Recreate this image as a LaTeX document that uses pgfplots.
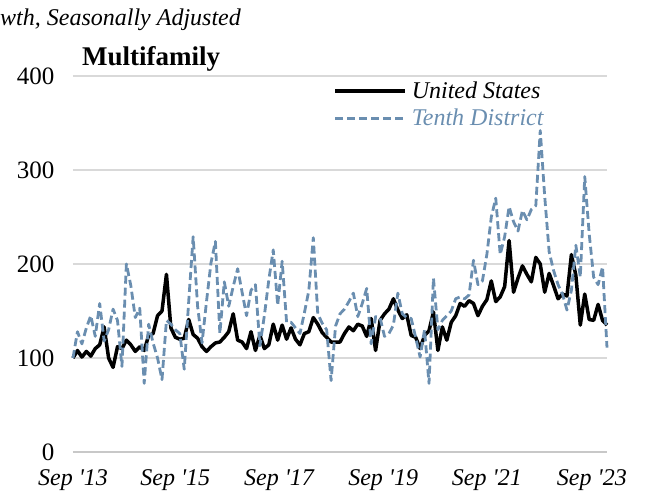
\documentclass[border=0pt]{standalone}
\usepackage{fontspec}
\setmainfont{Liberation Serif}
\usepackage{pgfplots}
\usepackage{pgfplotstable}
\pgfplotsset{compat=1.18}
\definecolor{tdblue}{RGB}{106,142,176}
\definecolor{gridgray}{RGB}{217,217,217}
\definecolor{basegray}{RGB}{200,200,200}

\pgfplotstableread{
i us td
0 100 100
1 108 128
2 101 115
3 107 132
4 102 145
5 110 123
6 114 158
7 133 118
8 100 130
9 90 152
10 112 140
11 110 91
12 119 200
13 114 177
14 107 143
15 112 153
16 108 73
17 124 136
18 126 116
19 145 100
20 150 77
21 189 140
22 132 136
23 122 130
24 120 126
25 121 88
26 141 160
27 125 229
28 121 155
29 112 116
30 107 160
31 112 201
32 116 224
33 117 126
34 122 181
35 128 155
36 147 176
37 119 195
38 117 170
39 110 145
40 128 172
41 108 178
42 124 113
43 110 145
44 114 183
45 136 215
46 119 156
47 135 203
48 120 138
49 132 138
50 120 132
51 114 126
52 126 148
53 128 172
54 143 228
55 136 147
56 127 137
57 122 130
58 117 76
59 117 134
60 117 147
61 126 152
62 133 160
63 129 169
64 136 144
65 134 158
66 123 174
67 142 115
68 108 144
69 140 143
70 147 123
71 152 126
72 163 135
73 151 169
74 142 147
75 146 143
76 124 142
77 122 122
78 110 101
79 124 130
80 129 73
81 149 185
82 108 130
83 133 140
84 119 145
85 138 150
86 145 163
87 158 165
88 155 163
89 161 167
90 158 204
91 145 178
92 155 182
93 162 210
94 182 250
95 160 270
96 165 210
97 176 229
98 225 261
99 170 245
100 185 235
101 198 257
102 189 247
103 181 258
104 207 262
105 200 342
106 170 272
107 190 213
108 177 193
109 163 178
110 168 168
111 166 151
112 210 172
113 188 220
114 135 186
115 168 293
116 141 232
117 140 186
118 157 178
119 140 197
120 135 111
}\data

\begin{document}
\begin{tikzpicture}
\begin{axis}[
  at={(73pt,48pt)}, anchor=south west,
  scale only axis, width=534pt, height=376pt,
  xmin=0, xmax=120, ymin=0, ymax=400,
  axis x line*=bottom, axis y line*=left,
  x axis line style={draw=basegray, line width=1.8pt, -},
  y axis line style={draw=none},
  ytick={0,100,200,300,400},
  ymajorgrids, grid style={gridgray, line width=1.5pt},
  major tick length=0pt,
  xtick={0,23,46.3,69.7,93,116.6},
  xticklabels={Sep \textquotesingle13, Sep \textquotesingle15, Sep \textquotesingle17, Sep \textquotesingle19, Sep \textquotesingle21, Sep \textquotesingle23},
  xticklabel style={font=\fontsize{24}{28}\selectfont\itshape, yshift=-14pt},
  yticklabel style={font=\fontsize{25}{28}\selectfont, xshift=-15pt},
  /pgf/number format/assume math mode=true,
  clip=false,
  legend style={at={(0.487,0.99)}, anchor=north west, draw=none, fill=none,
    font=\fontsize{24}{28}\selectfont\itshape, row sep=5pt, inner sep=0pt,
    nodes={inner xsep=5pt}},
  legend cell align=left,
  legend image code/.code={\draw[#1] (0pt,0pt) -- (70pt,0pt);},
]
\addplot[black, line width=3.5pt, line join=round] table[x=i,y=us]{\data};
\addlegendentry{United States}
\addplot[tdblue, line width=2.8pt, dash pattern=on 8pt off 4pt, line join=round] table[x=i,y=td]{\data};
\addlegendentry{\textcolor{tdblue}{Tenth District}}
\end{axis}
\node[anchor=base west, font=\fontsize{27}{30}\selectfont\bfseries, inner sep=0pt] at (82pt,434pt) {Multifamily};
\node[anchor=base west, font=\fontsize{24}{28}\selectfont\itshape, inner sep=0pt] at (0pt,474pt) {wth, Seasonally Adjusted};
\pgfresetboundingbox
\useasboundingbox (0pt,0pt) rectangle (651pt,500pt);
\end{tikzpicture}
\end{document}
